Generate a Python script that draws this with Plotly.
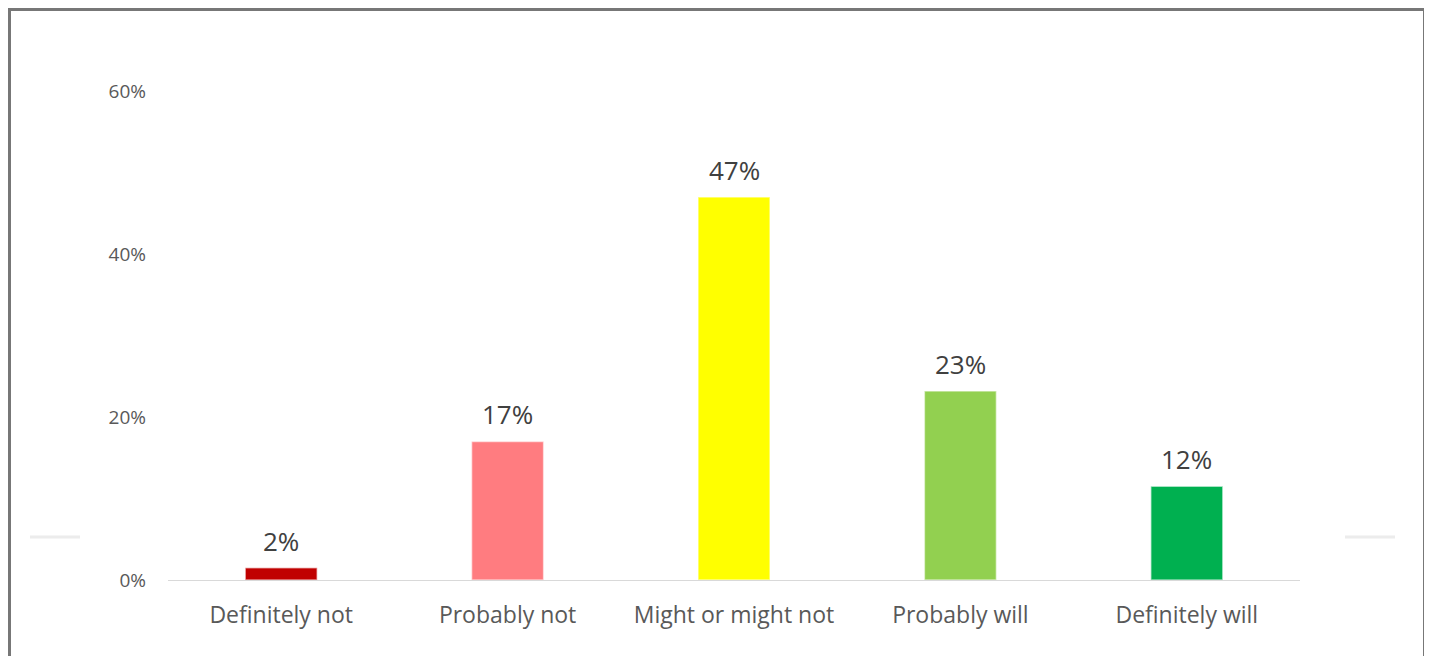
import plotly.graph_objects as go

categories = ["Definitely not", "Probably not", "Might or might not", "Probably will", "Definitely will"]
values = [1.5, 17.0, 47.0, 23.2, 11.5]
value_labels = ["2%", "17%", "47%", "23%", "12%"]
bar_colors = ["#C00000", "#FF7C80", "#FFFF00", "#92D050", "#00B050"]
y_ticks = [0, 20, 40, 60]
y_tick_labels = ["0%", "20%", "40%", "60%"]

FONT = "Open Sans"

fig = go.Figure()
fig.add_trace(go.Bar(
    x=categories,
    y=values,
    marker=dict(color=bar_colors, line=dict(color="rgba(255,255,255,0.55)", width=1.5)),
    width=0.318,
    hoverinfo="skip",
))

for c, v, t in zip(categories, values, value_labels):
    fig.add_annotation(
        x=c, y=v, text=t, showarrow=False, yanchor="bottom", yshift=7,
        font=dict(family=FONT, size=26, color="#404040"),
    )

# page body has an 8px margin: size the figure and positions to compensate
OFF = 8
W, H = 1432 - OFF, 656 - OFF
L, T = 168 - OFF, 91 - OFF
R = W - (1300 - OFF)
B = H - (580 - OFF)
pw, ph = W - L - R, H - T - B

def px_x(x):
    return (x - OFF - L) / pw

def px_y(y):
    return (H - B - (y - OFF)) / ph

fig.add_shape(type="rect", xref="paper", yref="paper",
              x0=px_x(9.5), x1=px_x(1424.5), y0=px_y(690), y1=px_y(9.5),
              line=dict(color="#777777", width=3), layer="below")
# faint shadow lines from the pasted image
for a, b in [(30, 80), (1345, 1395)]:
    fig.add_shape(type="line", xref="paper", yref="paper",
                  x0=px_x(a), x1=px_x(b), y0=px_y(537), y1=px_y(537),
                  line=dict(color="#ececec", width=3), layer="below")

fig.update_layout(
    width=W, height=H,
    margin=dict(l=L, r=R, t=T, b=B),
    paper_bgcolor="white", plot_bgcolor="white",
    showlegend=False,
    bargap=0.682,
    xaxis=dict(
        showline=True, linecolor="#d9d9d9", linewidth=1,
        showgrid=False, ticks="",
        tickfont=dict(family=FONT, size=23, color="#595959"),
        ticklabelstandoff=14,
    ),
    yaxis=dict(
        range=[0, 60], tickvals=y_ticks, ticktext=y_tick_labels,
        showgrid=False, zeroline=False, showline=False, ticks="",
        tickfont=dict(family=FONT, size=19, color="#595959"),
        ticklabelstandoff=21,
    ),
)

fig.write_html("out.html")
